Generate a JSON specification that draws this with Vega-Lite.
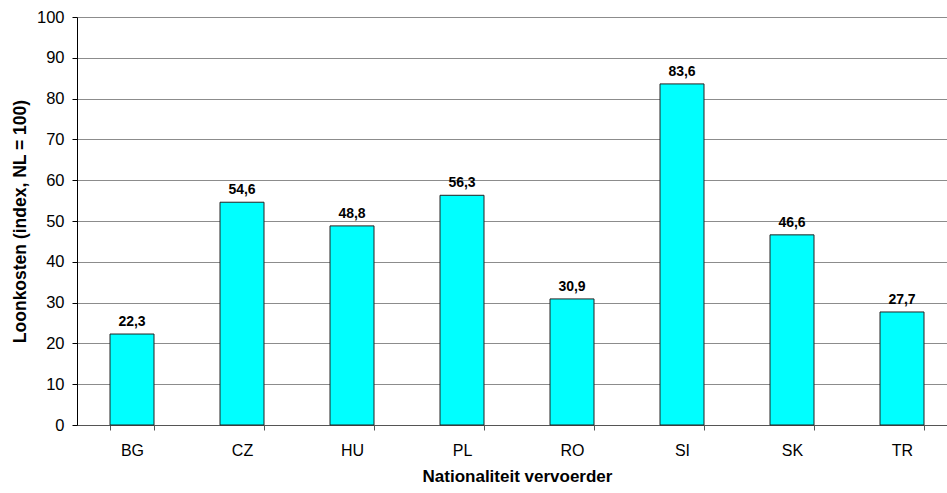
{
  "$schema": "https://vega.github.io/schema/vega-lite/v6.json",
  "width": 880,
  "height": 408,
  "autosize": {"type": "none"},
  "padding": {"left": 77, "top": 17, "right": 0, "bottom": 68},
  "background": "white",
  "config": {
    "view": {"stroke": null},
    "font": "Liberation Sans",
    "locale": {"number": {"decimal": ",", "thousands": ".", "grouping": [3], "currency": ["€", ""]}}
  },
  "data": {
    "values": [
      {"land": "BG", "waarde": 22.3},
      {"land": "CZ", "waarde": 54.6},
      {"land": "HU", "waarde": 48.8},
      {"land": "PL", "waarde": 56.3},
      {"land": "RO", "waarde": 30.9},
      {"land": "SI", "waarde": 83.6},
      {"land": "SK", "waarde": 46.6},
      {"land": "TR", "waarde": 27.7}
    ]
  },
  "encoding": {
    "x": {
      "field": "land",
      "type": "nominal",
      "sort": null,
      "scale": {"paddingInner": 0.6, "paddingOuter": 0.3},
      "axis": {
        "title": "Nationaliteit vervoerder",
        "titleFont": "Liberation Sans",
        "titleFontSize": 17,
        "titleFontWeight": "bold",
        "titleColor": "black",
        "titlePadding": 10,
        "labelAngle": 0,
        "labelFontSize": 16,
        "labelColor": "black",
        "labelPadding": 12,
        "tickBand": "extent",
        "tickSize": 5,
        "tickColor": "#555555",
        "domainColor": "#555555",
        "grid": false
      }
    },
    "y": {
      "field": "waarde",
      "type": "quantitative",
      "scale": {"domain": [0, 100], "nice": false},
      "axis": {
        "title": "Loonkosten (index, NL = 100)",
        "titleFontSize": 17.5,
        "titleFontWeight": "bold",
        "titleColor": "black",
        "titlePadding": 7,
        "values": [0, 10, 20, 30, 40, 50, 60, 70, 80, 90, 100],
        "labelFontSize": 16.5,
        "labelColor": "black",
        "labelPadding": 8,
        "tickSize": 5,
        "tickColor": "black",
        "domainColor": "black",
        "gridColor": "#8c8c8c",
        "gridOpacity": 1
      }
    }
  },
  "layer": [
    {
      "mark": {"type": "bar", "fill": "#00FFFF", "stroke": "#222222", "strokeWidth": 1}
    },
    {
      "mark": {"type": "text", "baseline": "alphabetic", "dy": -8, "fontWeight": "bold", "fontSize": 14, "color": "black"},
      "encoding": {"text": {"field": "waarde", "type": "quantitative", "format": ".1f"}}
    }
  ]
}
